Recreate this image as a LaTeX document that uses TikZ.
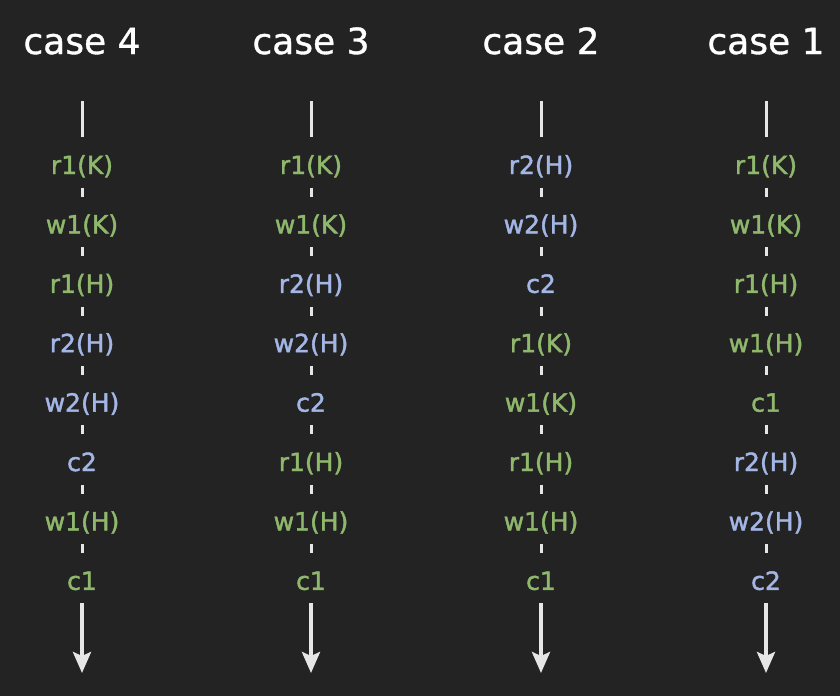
\documentclass[tikz,border=0pt]{standalone}
\usepackage{fontspec}
\setmainfont{DejaVu Sans}
\newfontfamily\lblfont[FakeBold=1.6]{DejaVu Sans}
\newfontfamily\ttlfont[FakeBold=1.0]{DejaVu Sans}
\usetikzlibrary{calc,arrows.meta}
\definecolor{bg}{HTML}{232323}
\definecolor{tone}{HTML}{8FB86C}
\definecolor{ttwo}{HTML}{A3B6E6}
\definecolor{ln}{HTML}{E6E6E6}
\tikzset{
  ttl/.style={anchor=base, text=white, inner sep=0pt, font=\ttlfont\fontsize{36}{40}\selectfont},
  lbl/.style={anchor=base, inner sep=0pt, font=\lblfont\fontsize{25}{28}\selectfont},
  seg/.style={draw=ln, line width=3pt},
  arr/.style={draw=ln, line width=3.8pt, -{Stealth[length=21pt,width=18pt,inset=4pt]}}
}
\newcommand\drawcase[4]{%
  \node[ttl] (#1-t) at (#2,-54) {case #3};
  \coordinate (#1-a) at (#2,-101);
  \coordinate (#1-b) at (#2,-137);
  \draw[seg] (#1-a) -- (#1-b);
  \foreach \lab/\st [count=\i] in {#4} {
    \node[lbl, text=\st] (#1-\i) at (#2,{-174-59.4*(\i-1)}) {\lab};
  }
  \foreach \i [evaluate=\i as \j using int(\i+1)] in {1,...,7} {
    \draw[seg] ($(#1-\i.base)!0.5!(#1-\j.base)$) ++(0,16) -- ++(0,-9);
  }
  \coordinate (#1-c) at (#2,-603);
  \coordinate (#1-d) at (#2,-673);
  \draw[arr] (#1-c) -- (#1-d);
}
\begin{document}
\begin{tikzpicture}[x=1pt,y=1pt]
\fill[bg] (0,0) rectangle (840,-696);
\useasboundingbox (0,0) rectangle (840,-696);
\drawcase{cf}{82}{4}{r1(K)/tone, w1(K)/tone, r1(H)/tone, r2(H)/ttwo, w2(H)/ttwo, c2/ttwo, w1(H)/tone, c1/tone}
\drawcase{cc}{311}{3}{r1(K)/tone, w1(K)/tone, r2(H)/ttwo, w2(H)/ttwo, c2/ttwo, r1(H)/tone, w1(H)/tone, c1/tone}
\drawcase{cb}{541}{2}{r2(H)/ttwo, w2(H)/ttwo, c2/ttwo, r1(K)/tone, w1(K)/tone, r1(H)/tone, w1(H)/tone, c1/tone}
\drawcase{ca}{766}{1}{r1(K)/tone, w1(K)/tone, r1(H)/tone, w1(H)/tone, c1/tone, r2(H)/ttwo, w2(H)/ttwo, c2/ttwo}
\end{tikzpicture}
\end{document}
